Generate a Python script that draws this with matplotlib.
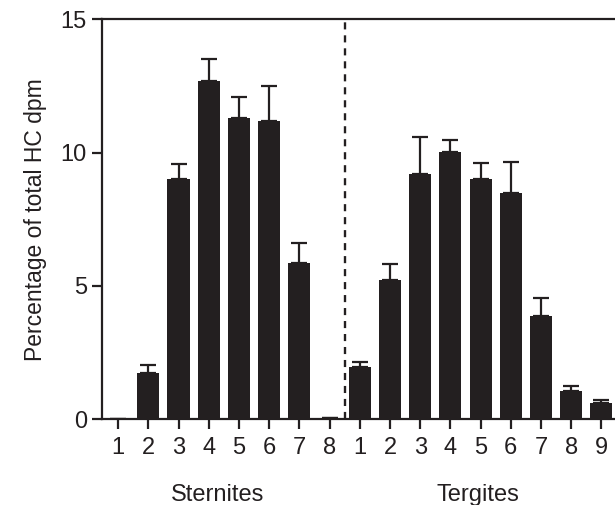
import matplotlib.pyplot as plt
import numpy as np

plt.rcParams['font.family'] = ['Liberation Sans', 'DejaVu Sans']

# Sternites 1-8, Tergites 1-9
sternite_labels = ['1', '2', '3', '4', '5', '6', '7', '8']
sternite_vals = [0.0, 1.74, 9.01, 12.70, 11.30, 11.19, 5.84, 0.05]
sternite_err = [0.0, 0.28, 0.55, 0.82, 0.79, 1.32, 0.75, 0.0]

tergite_labels = ['1', '2', '3', '4', '5', '6', '7', '8', '9']
tergite_vals = [1.94, 5.22, 9.19, 10.02, 8.99, 8.49, 3.86, 1.06, 0.61]
tergite_err = [0.21, 0.58, 1.40, 0.44, 0.60, 1.16, 0.67, 0.19, 0.10]

vals = sternite_vals + tergite_vals
errs = sternite_err + tergite_err
labels = sternite_labels + tergite_labels
x = np.arange(1, len(vals) + 1)

fig = plt.figure(figsize=(6.15, 5.05), dpi=100)
ax = fig.add_axes([0.166, 0.170, 0.834, 0.792])

kolor = '#231f20'
ax.bar(x, vals, width=0.73, color=kolor, zorder=2)
ax.errorbar(x, vals, yerr=[np.zeros(len(errs)), errs], fmt='none',
            ecolor=kolor, elinewidth=1.6, capsize=6, capthick=1.6, zorder=1)

# linia podzialu miedzy sternitami i tergitami
ax.axvline(len(sternite_vals) + 0.5, color=kolor, linestyle=(0, (3, 2.5)), linewidth=1.7)

ax.set_xlim(0.47, 17.45)
ax.set_ylim(0, 15)
ax.set_yticks([0, 5, 10, 15])
ax.set_xticks(x)
ax.set_xticklabels(labels)
ax.tick_params(axis='both', which='major', labelsize=17, width=1.6, length=7,
               color=kolor, labelcolor=kolor)
ax.tick_params(axis='x', pad=6)
ax.tick_params(axis='y', pad=4)

for s in ['left', 'bottom', 'top']:
    ax.spines[s].set_linewidth(1.6)
    ax.spines[s].set_color(kolor)
ax.spines['right'].set_visible(False)

ax.set_ylabel('Percentage of total HC dpm', fontsize=16.5, color=kolor, labelpad=10)

ax.text(4.3, -2.85, 'Sternites', ha='center', va='center', fontsize=17, color=kolor)
ax.text(12.9, -2.85, 'Tergites', ha='center', va='center', fontsize=17, color=kolor)

plt.savefig('out.png', dpi=100)
